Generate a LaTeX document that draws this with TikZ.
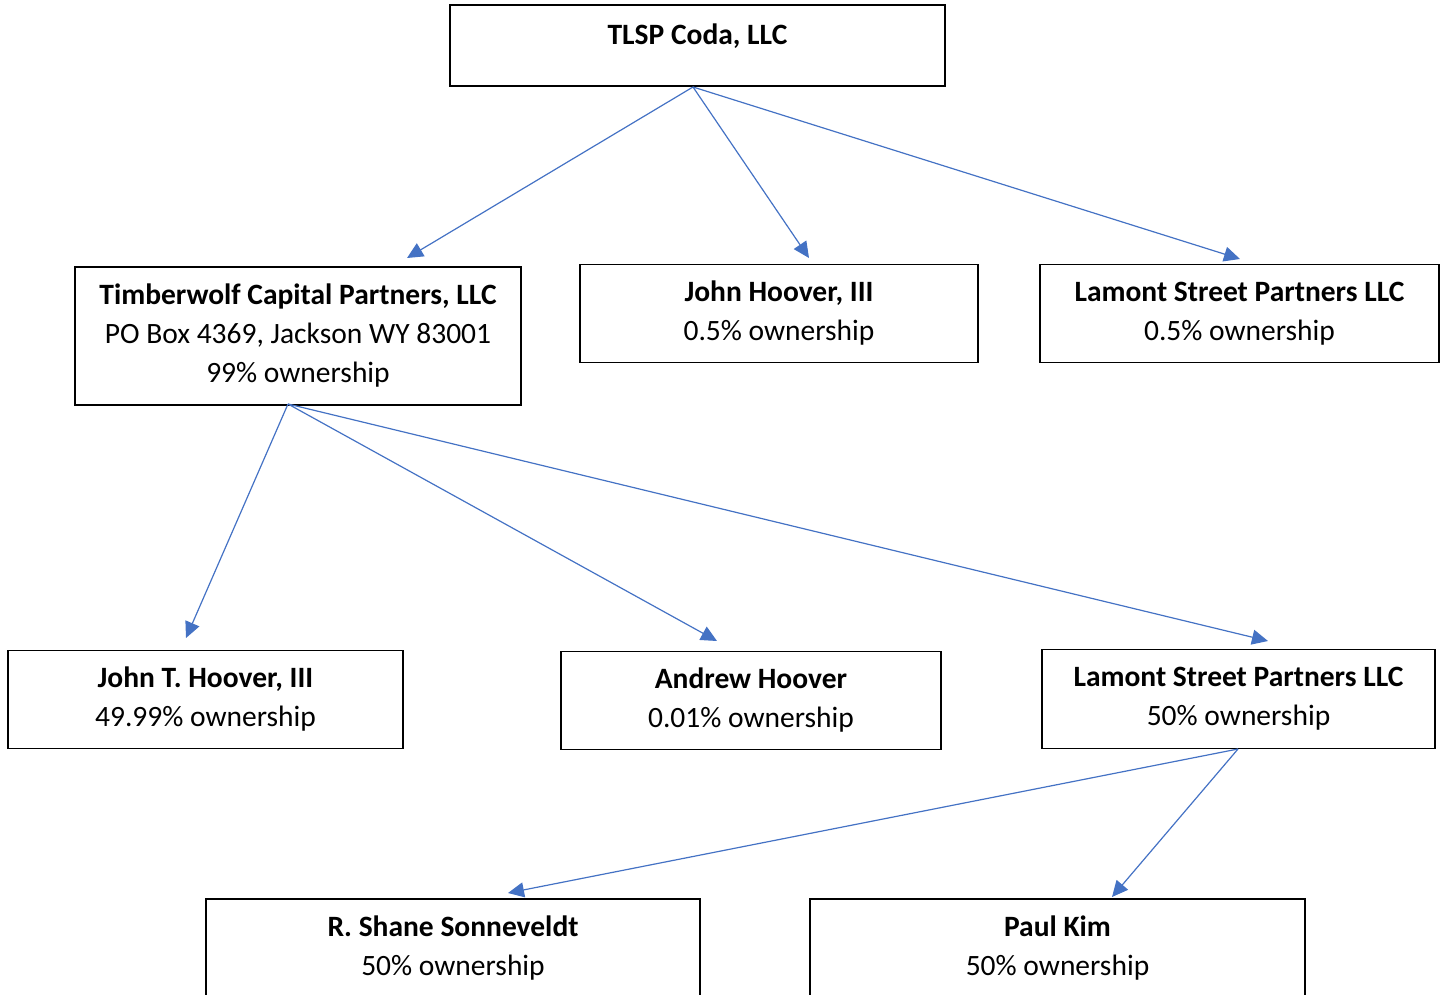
\documentclass[tikz,border=0pt]{standalone}
\usepackage{fontspec}
\setmainfont{Carlito}
\usetikzlibrary{arrows.meta}
\definecolor{arrowblue}{HTML}{4472C4}
\tikzset{
  box/.style={draw=black, line width=1.8pt, rectangle, inner sep=0pt, align=center,
    font=\fontsize{29.5}{39}\selectfont},
  conn/.style={draw=arrowblue, line width=1.2pt, -{Triangle[length=16pt,width=15pt]}},
}
\begin{document}
\begin{tikzpicture}[x=1pt,y=-1pt]
\useasboundingbox (0,0) rectangle (1449,995);
\clip (0,0) rectangle (1449,995);
% boxes
\node[box, minimum width=495pt, minimum height=81pt] (tlsp) at (697.5,45.5) {};
\node[font=\fontsize{29.5}{39}\selectfont\bfseries] (tlsptext) at (697.5,36) {TLSP Coda, LLC};
\node[box, minimum width=446pt, minimum height=138pt] (tw) at (298,336)
  {\textbf{Timberwolf Capital Partners, LLC}\\PO Box 4369, Jackson WY 83001\\99\% ownership};
\node[box, minimum width=398pt, minimum height=98pt] (jh) at (779,313.5)
  {\textbf{John Hoover, III}\\0.5\% ownership};
\node[box, minimum width=399pt, minimum height=98pt] (ls1) at (1239.5,313.5)
  {\textbf{Lamont Street Partners LLC}\\0.5\% ownership};
\node[box, minimum width=395pt, minimum height=98pt] (jth) at (205.5,699.5)
  {\textbf{John T. Hoover, III}\\49.99\% ownership};
\node[box, minimum width=380pt, minimum height=98pt] (ah) at (751,700.5)
  {\textbf{Andrew Hoover}\\0.01\% ownership};
\node[box, minimum width=393pt, minimum height=99pt] (ls2) at (1238.5,699)
  {\textbf{Lamont Street Partners LLC}\\50\% ownership};
\node[box, minimum width=494pt, minimum height=98pt] (rs) at (453,948)
  {\textbf{R. Shane Sonneveldt}\\50\% ownership};
\node[box, minimum width=495pt, minimum height=98pt] (pk) at (1057.5,948)
  {\textbf{Paul Kim}\\50\% ownership};
% connector start and end points
\coordinate (s1) at (693,87);
\coordinate (s2) at (288,404);
\coordinate (s3) at (1238,749);
\coordinate (e1) at (407,258);
\coordinate (e2) at (809,258);
\coordinate (e3) at (1240,259);
\coordinate (e4) at (186,638);
\coordinate (e5) at (717,641);
\coordinate (e6) at (1268,641);
\coordinate (e7) at (508,893);
\coordinate (e8) at (1112,897);
\draw[conn] (s1) -- (e1);
\draw[conn] (s1) -- (e2);
\draw[conn] (s1) -- (e3);
\draw[conn] (s2) -- (e4);
\draw[conn] (s2) -- (e5);
\draw[conn] (s2) -- (e6);
\draw[conn] (s3) -- (e7);
\draw[conn] (s3) -- (e8);
\end{tikzpicture}
\end{document}
